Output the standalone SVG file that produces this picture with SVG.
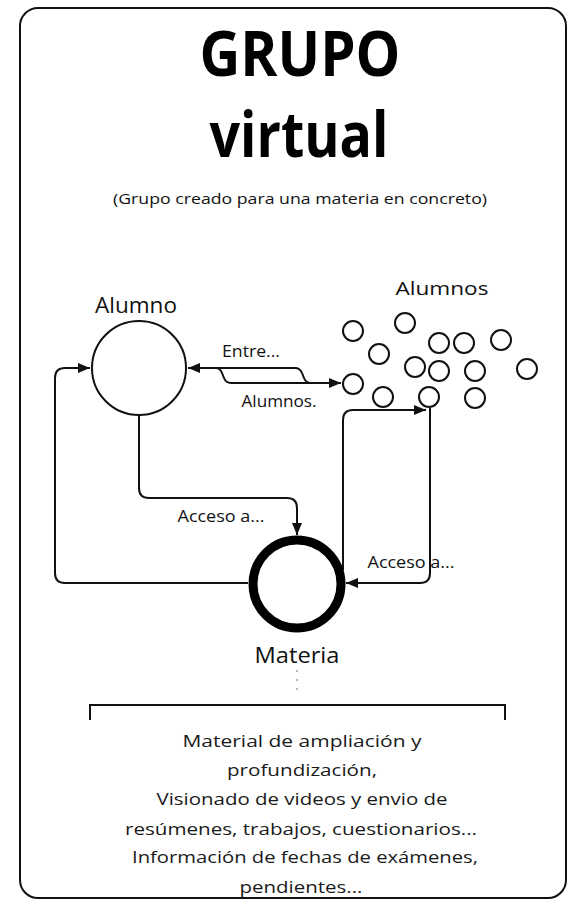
<svg xmlns="http://www.w3.org/2000/svg" width="569" height="903" viewBox="0 0 569 903">
<style>
.t{font-family:"Open Sans","Noto Sans","DejaVu Sans",sans-serif;fill:#111;text-anchor:middle}
.title{font-weight:bold;font-size:62px;fill:#000}
.lbl{font-size:16px}
.big{font-size:21px}
.body{font-size:17px;fill:#1a1a1a}
.con{fill:none;stroke:#111;stroke-width:2}
.sm{fill:#fff;stroke:#111;stroke-width:2}
</style>
<defs>
<marker id="arr" viewBox="0 0 12 10" refX="12" refY="5" markerWidth="12" markerHeight="10" orient="auto" markerUnits="userSpaceOnUse">
<path d="M0,0 L12,5 L0,10 z" fill="#111"/>
</marker>
</defs>
<rect width="569" height="903" fill="#fff"/>
<rect id="frame" x="20" y="8" width="546" height="890" rx="18" ry="18" fill="none" stroke="#111" stroke-width="2"/>
<g id="title">
<text class="t title" x="300" y="76" textLength="201" lengthAdjust="spacingAndGlyphs">GRUPO</text>
<text class="t title" x="299" y="157" font-size="59" textLength="179" lengthAdjust="spacingAndGlyphs">virtual</text>
<text class="t" x="300" y="204" font-size="15" textLength="374" lengthAdjust="spacingAndGlyphs">(Grupo creado para una materia en concreto)</text>
</g>
<g id="connectors">
<path class="con" d="M139,416 V488 Q139,498 149,498 H287 Q297,498 297,508 V535" marker-end="url(#arr)"/>
<path class="con" d="M248,583 H65 Q55,583 55,573 V378 Q55,368 65,368 H90" marker-end="url(#arr)"/>
<path class="con" d="M188,368 H216 Q220,368 222,373 L224,378 Q226,383 231,383 H341" marker-end="url(#arr)"/>
<path class="con" d="M341,383 H311 Q306,383 304,378 L302,373 Q300,368 295,368 H188" marker-end="url(#arr)"/>
<path class="con" d="M430,408 V573 Q430,583 420,583 H346" marker-end="url(#arr)"/>
<path class="con" d="M343,570 V420 Q343,410 353,410 H426" marker-end="url(#arr)"/>
<text class="t lbl" x="251" y="357" textLength="58" lengthAdjust="spacingAndGlyphs">Entre...</text>
<text class="t lbl" x="279" y="407" textLength="75" lengthAdjust="spacingAndGlyphs">Alumnos.</text>
<text class="t lbl" x="221" y="522" textLength="87" lengthAdjust="spacingAndGlyphs">Acceso a...</text>
<text class="t lbl" x="411" y="568" textLength="87" lengthAdjust="spacingAndGlyphs">Acceso a...</text>
</g>
<g id="alumno">
<circle cx="139" cy="368" r="47" fill="#fff" stroke="#111" stroke-width="2"/>
<text class="t big" x="136" y="313" textLength="82" lengthAdjust="spacingAndGlyphs">Alumno</text>
</g>
<g id="alumnos">
<text class="t" x="442" y="295" font-size="19" textLength="93" lengthAdjust="spacingAndGlyphs">Alumnos</text>
<circle class="sm" cx="353" cy="331" r="10"/>
<circle class="sm" cx="405" cy="323" r="10"/>
<circle class="sm" cx="379" cy="354" r="10"/>
<circle class="sm" cx="439" cy="343" r="10"/>
<circle class="sm" cx="464" cy="343" r="10"/>
<circle class="sm" cx="501" cy="340" r="10"/>
<circle class="sm" cx="415" cy="367" r="10"/>
<circle class="sm" cx="439" cy="371" r="10"/>
<circle class="sm" cx="475" cy="371" r="10"/>
<circle class="sm" cx="527" cy="369" r="10"/>
<circle class="sm" cx="353" cy="384" r="10"/>
<circle class="sm" cx="383" cy="397" r="10"/>
<circle class="sm" cx="429" cy="397" r="10"/>
<circle class="sm" cx="475" cy="398" r="10"/>
</g>
<g id="materia">
<circle cx="297" cy="584" r="44" fill="#fff" stroke="#000" stroke-width="9"/>
<text class="t big" x="297" y="663" font-size="22" textLength="85" lengthAdjust="spacingAndGlyphs">Materia</text>
<path d="M297,670 V696" fill="none" stroke="#bbb" stroke-width="2" stroke-dasharray="2,7"/>
</g>
<g id="recursos">
<path d="M90,720 V705 H505 V720" fill="none" stroke="#111" stroke-width="2"/>
<text class="t body" x="302" y="747" textLength="239" lengthAdjust="spacingAndGlyphs">Material de ampliación y</text>
<text class="t body" x="302" y="776" textLength="150" lengthAdjust="spacingAndGlyphs">profundización,</text>
<text class="t body" x="302" y="805" textLength="291" lengthAdjust="spacingAndGlyphs">Visionado de videos y envio de</text>
<text class="t body" x="301" y="835" textLength="352" lengthAdjust="spacingAndGlyphs">resúmenes, trabajos, cuestionarios...</text>
<text class="t body" x="305" y="863" textLength="346" lengthAdjust="spacingAndGlyphs">Información de fechas de exámenes,</text>
<text class="t body" x="301" y="893" textLength="123" lengthAdjust="spacingAndGlyphs">pendientes...</text>
</g>
</svg>
